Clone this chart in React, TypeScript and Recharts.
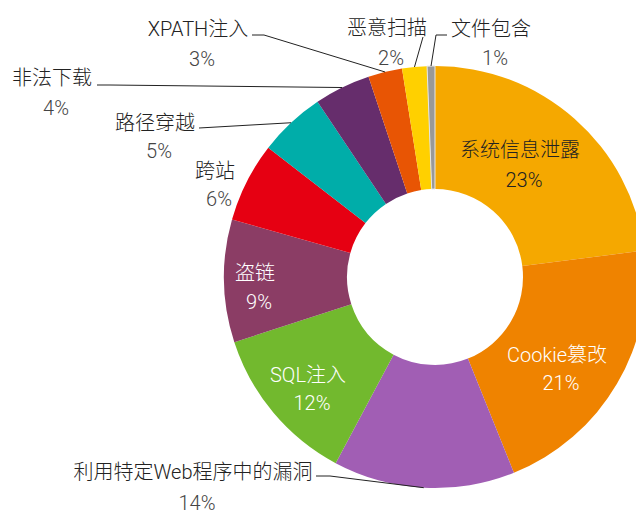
import { PieChart, Pie, Cell } from "recharts";

// attack types, clockwise from 12 o'clock
const NAMES = [
  "系统信息泄露",
  "Cookie篡改",
  "利用特定Web程序中的漏洞",
  "SQL注入",
  "盗链",
  "跨站",
  "路径穿越",
  "非法下载",
  "XPATH注入",
  "恶意扫描",
  "文件包含",
];
// share of attacks (%)
const SHARES = [23.0, 20.9, 13.9, 12.2, 9.4, 6.1, 5.1, 4.3, 2.6, 1.9, 0.6];
const COLORS = [
  "#F5A800",
  "#EF8300",
  "#A15EB4",
  "#72B92E",
  "#8B3D65",
  "#E60012",
  "#00ADA9",
  "#662D6C",
  "#E85504",
  "#FFD000",
  "#999999",
];

const W = 636;
const H = 514;
const CX = 435;
const CY = 277;
const FONT = "Roboto, 'Noto Sans CJK SC', sans-serif";

interface LabelLayout {
  dx: number; // name line centre, relative to the pie centre
  dy: number;
  gap: number; // distance name -> percentage line
  inside?: boolean;
  color?: string;
  elbow?: [number, number];
  end?: [number, number];
  noLine?: boolean;
}

const LAYOUT: LabelLayout[] = [
  { dx: 85, dy: -127, gap: 30, inside: true, color: "#222" },
  { dx: 122, dy: 78, gap: 28, inside: true, color: "#fff" },
  { dx: -242, dy: 195, gap: 31, elbow: [-105, 199], end: [-119, 199] },
  { dx: -127, dy: 98, gap: 28, inside: true, color: "#fff" },
  { dx: -180, dy: -4, gap: 29, inside: true, color: "#fff" },
  { dx: -220, dy: -106, gap: 28, noLine: true },
  { dx: -280, dy: -154, gap: 28, elbow: [-236, -149], end: [-236, -149] },
  { dx: -383, dy: -199, gap: 30, elbow: [-325, -192], end: [-338, -192] },
  { dx: -237, dy: -248, gap: 30, elbow: [-171, -242], end: [-183, -242] },
  { dx: -48, dy: -249, gap: 30, elbow: [-12, -240], end: [-12, -240] },
  { dx: 56, dy: -248, gap: 29, elbow: [1, -242], end: [12, -242] },
];

const data = NAMES.map((name, i) => ({ name, value: SHARES[i] }));

const RADIAN = Math.PI / 180;

function renderLabel(props: any) {
  const { cx, cy, midAngle, outerRadius, percent, index } = props;
  const lay = LAYOUT[index];
  const name = NAMES[index];
  const pct = `${Math.round(percent * 100)}%`;
  const tx = cx + lay.dx;
  const ty = cy + lay.dy;

  let line = null;
  if (!lay.inside && !lay.noLine && lay.elbow && lay.end) {
    const sx = cx + outerRadius * Math.cos(-midAngle * RADIAN);
    const sy = cy + outerRadius * Math.sin(-midAngle * RADIAN);
    const pts = [
      [sx, sy],
      [cx + lay.elbow[0], cy + lay.elbow[1]],
      [cx + lay.end[0], cy + lay.end[1]],
    ]
      .map((p) => p.join(","))
      .join(" ");
    line = <polyline points={pts} fill="none" stroke="#222" strokeWidth={1} />;
  }

  const nameColor = lay.color ?? "#222";
  const pctColor = lay.color ?? "#444";

  return (
    <g>
      {line}
      <text
        x={tx}
        y={ty}
        textAnchor="middle"
        dominantBaseline="central"
        fill={nameColor}
        fontSize={20}
        fontWeight={300}
        fontFamily={FONT}
      >
        {name}
      </text>
      <text
        x={tx + 4}
        y={ty + lay.gap}
        textAnchor="middle"
        dominantBaseline="central"
        fill={pctColor}
        fontSize={20}
        fontWeight={300}
        fontFamily={FONT}
      >
        {pct}
      </text>
    </g>
  );
}

export default function App() {
  return (
    <div style={{ position: "absolute", left: 0, top: 0, width: W, height: H, background: "#fff" }}>
      <PieChart width={W} height={H} margin={{ top: 0, right: 0, bottom: 0, left: 0 }}>
        <Pie
          data={data}
          dataKey="value"
          nameKey="name"
          cx={CX}
          cy={CY}
          innerRadius={88}
          outerRadius={211}
          startAngle={90}
          endAngle={-270}
          stroke="none"
          label={renderLabel}
          labelLine={false}
          isAnimationActive={false}
        >
          {data.map((d, i) => (
            <Cell
              key={d.name}
              fill={COLORS[i]}
              stroke={i === COLORS.length - 1 ? "#e6e6e6" : "none"}
              strokeWidth={1}
            />
          ))}
        </Pie>
      </PieChart>
    </div>
  );
}
